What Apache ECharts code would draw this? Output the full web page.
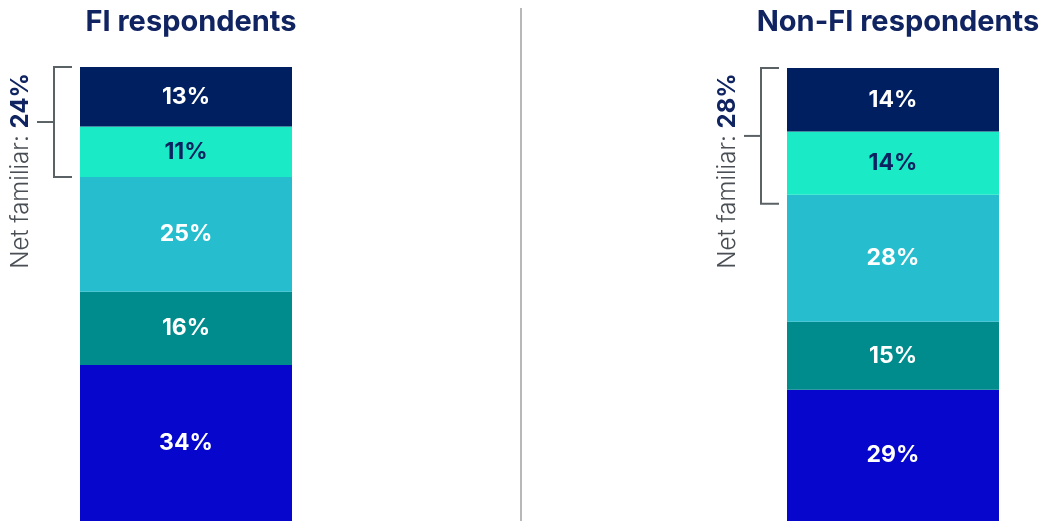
<!DOCTYPE html>
<html>
<head>
<meta charset="utf-8">
<script src="https://cdn.jsdelivr.net/npm/echarts@6/dist/echarts.min.js"></script>
<style>
  html, body { margin: 0; padding: 0; background: #fff; }
  #chart { width: 1045px; height: 521px; }
</style>
</head>
<body>
<div id="chart"></div>
<script>
// segments listed bottom to top
const segments = ['Not at all familiar', 'Not very familiar', 'Somewhat unfamiliar', 'Somewhat familiar', 'Very familiar'];
const groups = ['FI respondents', 'Non-FI respondents'];
const fiValues = [34, 16, 25, 11, 13];
const nonFiValues = [29, 15, 28, 14, 14];
const netFamiliar = [24, 28];

const colors = ['#0606cc', '#008c8c', '#26bece', '#1aeac5', '#001f61'];
const labelColors = ['#ffffff', '#ffffff', '#ffffff', '#0b2260', '#ffffff'];
const navy = '#0f2460';
const font = 'Inter, "Noto Sans", sans-serif';

const allValues = [fiValues, nonFiValues];
const gridLefts = [80, 787];
const gridTops = [67, 68];
const bracketPad = [0, 9];

const chart = echarts.init(document.getElementById('chart'), null, { renderer: 'canvas' });

const series = [];
allValues.forEach((vals, g) => {
  vals.forEach((v, i) => {
    series.push({
      type: 'bar',
      name: segments[i],
      xAxisIndex: g,
      yAxisIndex: g,
      stack: 'g' + g,
      barWidth: '100%',
      data: [v],
      itemStyle: { color: colors[i] },
      label: {
        show: true,
        position: 'inside',
        formatter: '{c}%',
        color: labelColors[i],
        fontFamily: font,
        fontWeight: 'bold',
        fontSize: 23
      },
      emphasis: { disabled: true },
      silent: true
    });
  });
});

const option = {
  animation: false,
  title: groups.map((t, g) => ({
    text: t,
    left: gridLefts[g] + 106,
    textAlign: 'center',
    top: 3,
    textStyle: { color: navy, fontFamily: font, fontWeight: 'bold', fontSize: 29 }
  })),
  grid: groups.map((t, g) => ({
    left: gridLefts[g], width: 212, top: gridTops[g], bottom: 0
  })),
  xAxis: groups.map((t, g) => ({
    type: 'category', gridIndex: g, data: [t], show: false
  })),
  yAxis: allValues.map((vals, g) => ({
    type: 'value', gridIndex: g, min: 0,
    max: vals.reduce((a, b) => a + b, 0), show: false
  })),
  series: series
};

chart.setOption(option);

// brackets, rotated net labels, divider
const graphics = [];
const lineStyle = { stroke: '#5a6266', lineWidth: 2 };
allValues.forEach((vals, g) => {
  const total = vals.reduce((a, b) => a + b, 0);
  const yTop = chart.convertToPixel({ yAxisIndex: g }, total);
  const yBot = chart.convertToPixel({ yAxisIndex: g }, total - netFamiliar[g]) + bracketPad[g];
  const yMid = (yTop + yBot) / 2;
  const bx = gridLefts[g] - 26;
  graphics.push({
    type: 'polyline',
    shape: { points: [[gridLefts[g] - 8, yTop], [bx, yTop], [bx, yBot], [gridLefts[g] - 8, yBot]] },
    style: Object.assign({ fill: null }, lineStyle)
  });
  graphics.push({
    type: 'line',
    shape: { x1: bx - 17, y1: yMid, x2: bx, y2: yMid },
    style: lineStyle
  });
  graphics.push({
    type: 'text',
    x: gridLefts[g] - 59,
    y: 171,
    rotation: Math.PI / 2,
    style: {
      text: '{a|Net familiar: }{b|' + netFamiliar[g] + '%}',
      align: 'center',
      verticalAlign: 'middle',
      rich: {
        a: { fontFamily: font, fontWeight: 300, fontSize: 24, fill: '#4a4f55' },
        b: { fontFamily: font, fontWeight: 'bold', fontSize: 24, fill: navy }
      }
    }
  });
});
graphics.push({
  type: 'line',
  shape: { x1: 521, y1: 8, x2: 521, y2: 521 },
  style: { stroke: '#a0a0a0', lineWidth: 1.5 }
});

chart.setOption({ graphic: graphics });
</script>
</body>
</html>
